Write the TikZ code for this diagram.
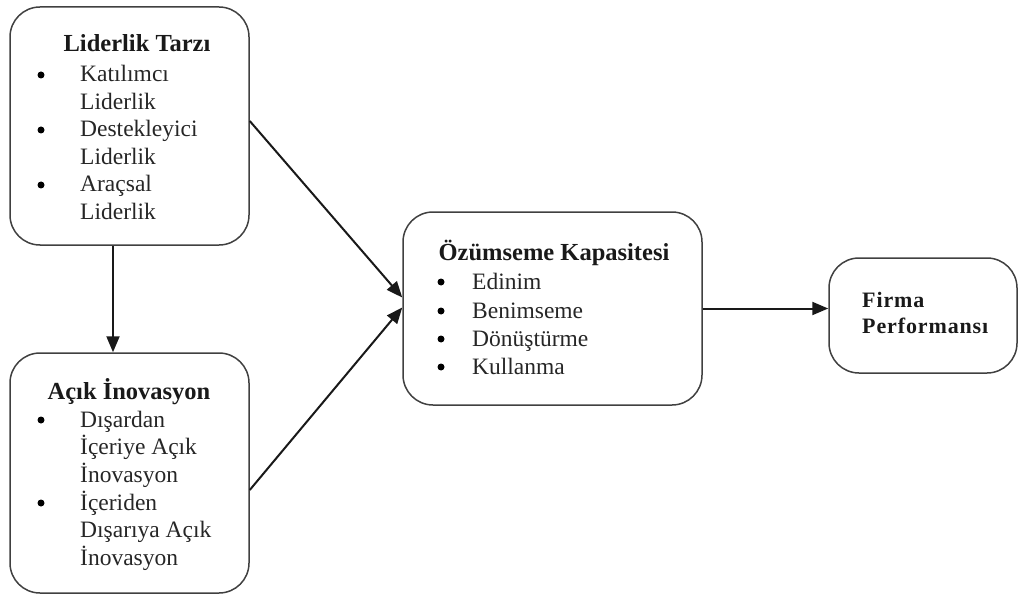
\documentclass[tikz,border=0pt]{standalone}
\usepackage{fontspec}
\setmainfont{Liberation Serif}
\usetikzlibrary{arrows.meta,calc}
\begin{document}
\begin{tikzpicture}[x=1pt,y=-1pt,
  box/.style={draw=black!75, line width=1.5pt, rounded corners=30pt, inner sep=0pt},
  conn/.style={line width=2pt, draw=black!90, -{Triangle[length=16pt,width=13pt]}},
  ttl/.style={font=\bfseries\fontsize{24.5}{27}\selectfont, anchor=base, inner sep=0pt, text=black!90},
  itm/.style={font=\fontsize{23.5}{27}\selectfont, anchor=base west, inner sep=0pt, text=black!85},
  bul/.style={circle, fill=black, inner sep=0pt, minimum size=7pt},
  fpt/.style={font=\bfseries\fontsize{22}{27}\selectfont\addfontfeature{LetterSpace=4}, anchor=base west, inner sep=0pt, text=black!90}]
\useasboundingbox (0,0) rectangle (1019,596);
% boxes
\node[box, minimum width=239pt, minimum height=238pt] (lt) at (129.5,126) {};
\node[box, minimum width=239pt, minimum height=240pt] (ai) at (129.5,473) {};
\node[box, minimum width=299pt, minimum height=193pt] (ok) at (552.5,308.5) {};
\node[box, minimum width=188pt, minimum height=115pt] (fp) at (923,315.5) {};
% box 1 text
\node[ttl] (t1) at (137,52) {Liderlik Tarzı};
\node[bul] (b11) at (41,75) {};
\node[bul] (b12) at (41,130) {};
\node[bul] (b13) at (41,185) {};
\node[itm] (i11) at (80,82) {Katılımcı};
\node[itm] (i12) at (80,109.5) {Liderlik};
\node[itm] (i13) at (80,137) {Destekleyici};
\node[itm] (i14) at (80,164.5) {Liderlik};
\node[itm] (i15) at (80,192) {Araçsal};
\node[itm] (i16) at (80,219.5) {Liderlik};
% box 2 text
\node[ttl] (t2) at (129,399) {Açık İnovasyon};
\node[bul] (b21) at (41,420) {};
\node[bul] (b22) at (41,503) {};
\node[itm] (i21) at (80,427) {Dışardan};
\node[itm] (i22) at (80,454.5) {İçeriye Açık};
\node[itm] (i23) at (80,482) {İnovasyon};
\node[itm] (i24) at (80,510) {İçeriden};
\node[itm] (i25) at (80,537.5) {Dışarıya Açık};
\node[itm] (i26) at (80,565) {İnovasyon};
% box 3 text
\node[ttl] (t3) at (554,260) {Özümseme Kapasitesi};
\node[bul] (b31) at (441,282) {};
\node[bul] (b32) at (441,311) {};
\node[bul] (b33) at (441,339) {};
\node[bul] (b34) at (441,367) {};
\node[itm] (i31) at (472,289) {Edinim};
\node[itm] (i32) at (472,318) {Benimseme};
\node[itm] (i33) at (472,346) {Dönüştürme};
\node[itm] (i34) at (472,374) {Kullanma};
% box 4 text
\node[fpt] (t4a) at (862,307) {Firma};
\node[fpt] (t4b) at (862,333) {Performansı};
% connectors
\draw[conn] ($(lt.east)+(0,-5)$) -- ($(ok.west)+(0,-11)$);
\draw[conn] ($(ai.east)+(0,17)$) -- ($(ok.west)+(0,-1)$);
\draw[conn] ($(lt.south)+(-16.5,0)$) -- ($(ai.north)+(-16.5,0)$);
\draw[conn] (ok.east) -- (ok.east -| fp.west);
\end{tikzpicture}
\end{document}
